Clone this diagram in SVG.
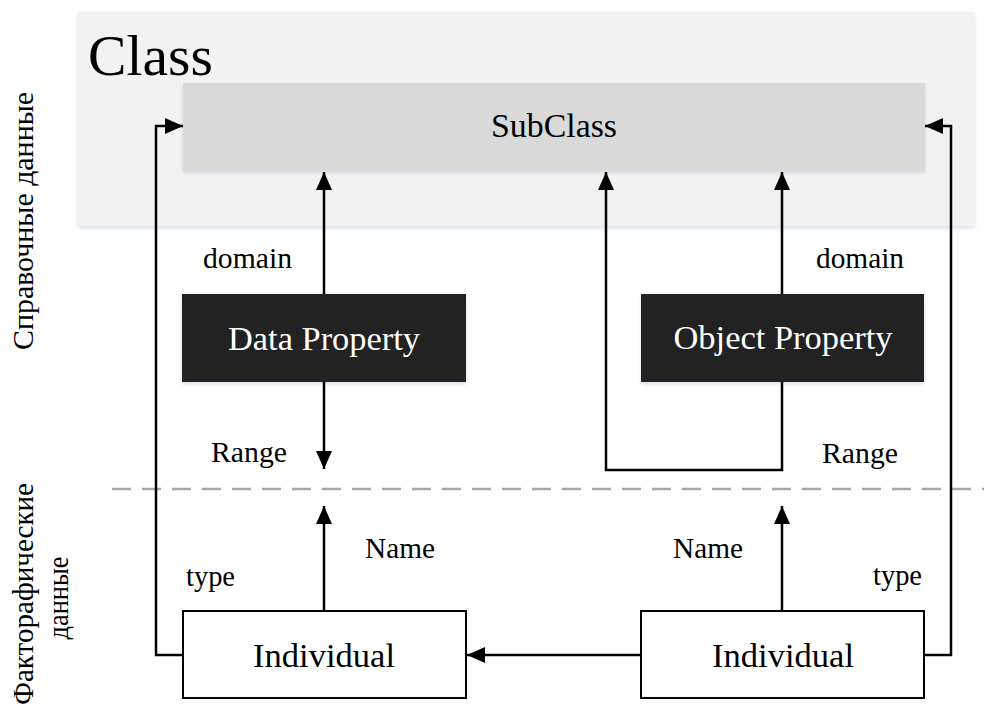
<svg xmlns="http://www.w3.org/2000/svg" width="984" height="708" viewBox="0 0 984 708">
  <defs>
    <marker id="arr" markerUnits="userSpaceOnUse" markerWidth="20" markerHeight="18" refX="18" refY="8" orient="auto">
      <path d="M0,0 L18,8 L0,16 Z" fill="#000"/>
    </marker>
    <filter id="sh" x="-5%" y="-10%" width="110%" height="130%">
      <feDropShadow dx="0" dy="2" stdDeviation="2" flood-color="#9fb4d4" flood-opacity="0.45"/>
    </filter>
  </defs>
  <style>
    text { font-family: "Liberation Serif", "Times New Roman", Times, "Nimbus Roman", "Nimbus Roman No9 L", FreeSerif, Tinos, "Noto Serif", "DejaVu Serif", "Noto Serif CJK SC", "Source Serif Pro", Georgia, serif; fill: #000; }
    .lbl { font-size: 29px; }
    .box { font-size: 33px; }
    .side { font-size: 29px; }
    .conn { fill: none; stroke: #000; stroke-width: 2.5; }
    .ind { fill: #fff; stroke: #000; stroke-width: 2; }
    .dark { fill: #232323; }
  </style>
  <rect width="984" height="708" fill="#fff"/>

  <g id="class-region">
    <rect x="78" y="12" width="896" height="214" fill="#f2f2f2" filter="url(#sh)"/>
    <text x="88" y="75" style="font-size:58px" textLength="125" lengthAdjust="spacingAndGlyphs">Class</text>
  </g>

  <g id="side-labels">
    <text class="side" transform="translate(33,221) rotate(-90)" text-anchor="middle" textLength="258" lengthAdjust="spacingAndGlyphs">Справочные данные</text>
    <text class="side" transform="translate(33,594) rotate(-90)" text-anchor="middle" textLength="222" lengthAdjust="spacingAndGlyphs">Факторафические</text>
    <text class="side" transform="translate(68,598) rotate(-90)" text-anchor="middle" textLength="83" lengthAdjust="spacingAndGlyphs">данные</text>
  </g>

  <line id="divider" x1="112" y1="489" x2="984" y2="489" stroke="#a8a8a8" stroke-width="2.5" stroke-dasharray="19 11"/>

  <g id="subclass">
    <rect x="183" y="83" width="742" height="88" fill="#d9d9d9" filter="url(#sh)"/>
    <text class="box" x="554" y="137" text-anchor="middle" textLength="126" lengthAdjust="spacingAndGlyphs">SubClass</text>
  </g>

  <g id="data-property">
    <rect class="dark" x="182" y="294" width="284" height="88" filter="url(#sh)"/>
    <text class="box" x="324" y="350" text-anchor="middle" style="fill:#fff" textLength="192" lengthAdjust="spacingAndGlyphs">Data Property</text>
  </g>

  <g id="object-property">
    <rect class="dark" x="641" y="294" width="283" height="88" filter="url(#sh)"/>
    <text class="box" x="783" y="349" text-anchor="middle" style="fill:#fff" textLength="219" lengthAdjust="spacingAndGlyphs">Object Property</text>
  </g>

  <g id="individual-left">
    <rect class="ind" x="183" y="611" width="283" height="87"/>
    <text class="box" x="324" y="667" text-anchor="middle" textLength="142" lengthAdjust="spacingAndGlyphs">Individual</text>
  </g>

  <g id="individual-right">
    <rect class="ind" x="641" y="611" width="283" height="87"/>
    <text class="box" x="783" y="667" text-anchor="middle" textLength="142" lengthAdjust="spacingAndGlyphs">Individual</text>
  </g>

  <g id="connectors">
    <path class="conn" d="M324,294 L324,172" marker-end="url(#arr)"/>
    <path class="conn" d="M324,382 L324,469" marker-end="url(#arr)"/>
    <path class="conn" d="M782,294 L782,172" marker-end="url(#arr)"/>
    <path class="conn" d="M782,382 L782,470 L606,470 L606,172" marker-end="url(#arr)"/>
    <path class="conn" d="M324,611 L324,506" marker-end="url(#arr)"/>
    <path class="conn" d="M782,611 L782,506" marker-end="url(#arr)"/>
    <path class="conn" d="M641,655 L467,655" marker-end="url(#arr)"/>
    <path class="conn" d="M183,655 L156,655 L156,126 L183,126" marker-end="url(#arr)"/>
    <path class="conn" d="M924,655 L951,655 L951,126 L925,126" marker-end="url(#arr)"/>
  </g>

  <g id="labels">
    <text class="lbl" x="203" y="268" textLength="89" lengthAdjust="spacingAndGlyphs">domain</text>
    <text class="lbl" x="816" y="268" textLength="88" lengthAdjust="spacingAndGlyphs">domain</text>
    <text class="lbl" x="211" y="462" textLength="76" lengthAdjust="spacingAndGlyphs">Range</text>
    <text class="lbl" x="822" y="463" textLength="76" lengthAdjust="spacingAndGlyphs">Range</text>
    <text class="lbl" x="365" y="558" textLength="70" lengthAdjust="spacingAndGlyphs">Name</text>
    <text class="lbl" x="673" y="558" textLength="70" lengthAdjust="spacingAndGlyphs">Name</text>
    <text class="lbl" x="186" y="586" textLength="49" lengthAdjust="spacingAndGlyphs">type</text>
    <text class="lbl" x="873" y="585" textLength="49" lengthAdjust="spacingAndGlyphs">type</text>
  </g>
</svg>
